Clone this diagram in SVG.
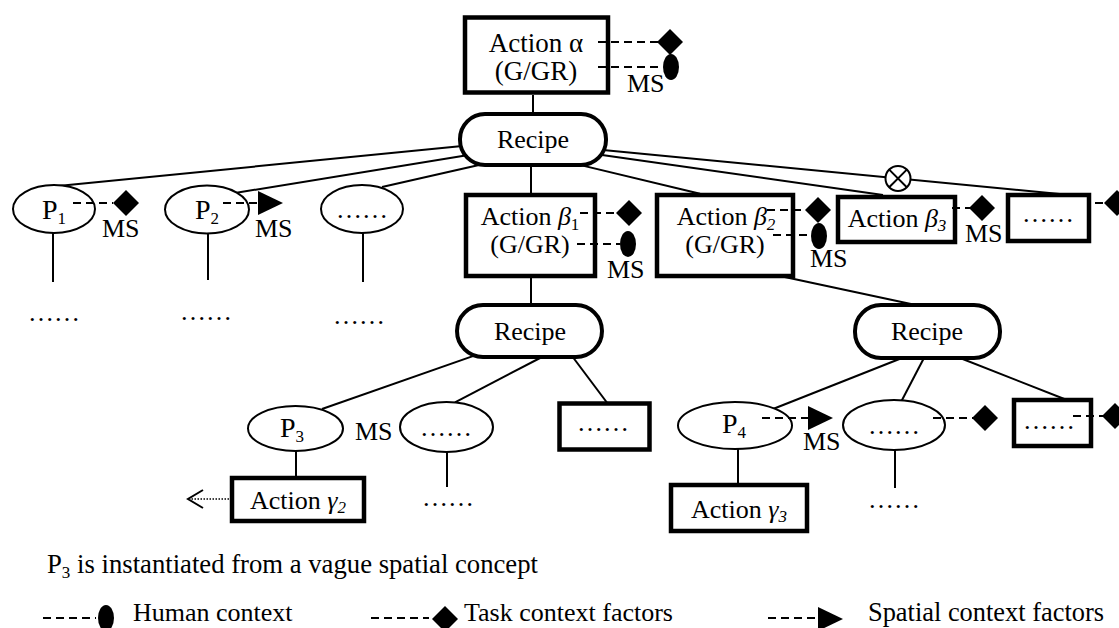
<svg xmlns="http://www.w3.org/2000/svg" xmlns:xlink="http://www.w3.org/1999/xlink" width="1119" height="628" viewBox="0 0 1119 628" font-family="'Liberation Serif', 'Times New Roman', 'DejaVu Serif', serif" font-size="26">
  <defs>
    <style>
      text { fill: #000; }
      .mid { text-anchor: middle; }
      .sub { font-size: 17px; }
      .p { font-size: 28px; }
      .edge { stroke: #000; stroke-width: 2; fill: none; }
      .ctx { stroke: #000; stroke-width: 2; stroke-dasharray: 8 5; fill: none; }
      .dotted { stroke: #000; stroke-width: 1.5; stroke-dasharray: 1.5 1.5; fill: none; }
      .box { fill: #fff; stroke: #000; stroke-width: 4.5; }
      .recipe { fill: #fff; stroke: #000; stroke-width: 4; }
      .ell { fill: #fff; stroke: #000; stroke-width: 2; }
      .mark { fill: #000; }
    </style>
    <!-- context factor glyphs -->
    <path id="task" class="mark" d="M0,-13 L13,0 L0,13 L-13,0 Z"/>
    <ellipse id="human" class="mark" rx="8" ry="13"/>
    <path id="spatial" class="mark" d="M0,-12 L25,0 L0,12 Z"/>
  </defs>

  <rect width="1119" height="628" fill="#fff"/>

  <!-- tree connectors -->
  <g id="connectors">
    <line class="edge" x1="533" y1="95" x2="533" y2="116"/>
    <line class="edge" x1="58" y1="186" x2="470" y2="145.2"/>
    <line class="edge" x1="235" y1="193" x2="470" y2="154.7"/>
    <line class="edge" x1="382" y1="187" x2="490" y2="162.6"/>
    <line class="edge" x1="531" y1="160" x2="531" y2="197"/>
    <line class="edge" x1="562" y1="160.6" x2="700" y2="193.7"/>
    <line class="edge" x1="590" y1="148.7" x2="1070" y2="195"/>
    <line class="edge" x1="595" y1="154" x2="883" y2="195"/>
    <line class="edge" x1="53" y1="233" x2="53" y2="282"/>
    <line class="edge" x1="208" y1="233" x2="208" y2="280"/>
    <line class="edge" x1="363" y1="233" x2="363" y2="282"/>
    <line class="edge" x1="531" y1="276" x2="531" y2="307"/>
    <line class="edge" x1="480" y1="353.6" x2="322" y2="409"/>
    <line class="edge" x1="542" y1="357" x2="455" y2="402.4"/>
    <line class="edge" x1="572" y1="356" x2="608" y2="404"/>
    <line class="edge" x1="296" y1="451" x2="296" y2="479"/>
    <line class="edge" x1="447" y1="452" x2="447" y2="487"/>
    <line class="edge" x1="780" y1="276" x2="925" y2="307"/>
    <line class="edge" x1="907" y1="356" x2="773" y2="409"/>
    <line class="edge" x1="925" y1="356" x2="901" y2="402"/>
    <line class="edge" x1="955" y1="356" x2="1072" y2="402"/>
    <line class="edge" x1="738" y1="449" x2="738" y2="486"/>
    <line class="edge" x1="895" y1="450" x2="895" y2="488"/>
    <!-- dotted pointer from Action gamma2 -->
    <line class="dotted" x1="232" y1="499" x2="190" y2="499"/>
    <polyline class="edge" stroke-width="1.5" points="203,490 188,499 203,508"/>
    <!-- exclusive-choice marker -->
    <circle cx="898" cy="178.4" r="12.5" fill="#fff" stroke="#000" stroke-width="2"/>
    <path class="edge" d="M889.2,169.6 L906.8,187.2 M906.8,169.6 L889.2,187.2"/>
  </g>

  <g id="action-alpha">
    <rect class="box" x="465" y="17.5" width="143" height="75"/>
    <text class="mid" x="536" y="52" font-size="27">Action α</text>
    <text class="mid" x="536" y="80" font-size="27">(G/GR)</text>
    <line class="ctx" x1="598" y1="42" x2="658" y2="42"/>
    <line class="ctx" x1="598" y1="67" x2="663" y2="67"/>
    <use xlink:href="#task" x="670" y="42"/>
    <use xlink:href="#human" x="671" y="67"/>
    <text x="627" y="92">MS</text>
  </g>

  <g id="recipe-1">
    <rect class="recipe" x="460" y="114" width="146" height="51" rx="25"/>
    <text class="mid" x="533" y="148">Recipe</text>
  </g>

  <g id="p1">
    <ellipse class="ell" cx="54" cy="209" rx="41" ry="24"/>
    <text class="mid p" x="54" y="219">P<tspan class="sub" dy="5">1</tspan></text>
    <line class="ctx" x1="73" y1="203" x2="113" y2="203"/>
    <use xlink:href="#task" x="126" y="203"/>
    <text x="102" y="237">MS</text>
    <text class="mid" x="54" y="321">……</text>
  </g>

  <g id="p2">
    <ellipse class="ell" cx="207" cy="209.5" rx="42" ry="24"/>
    <text class="mid p" x="207" y="219">P<tspan class="sub" dy="5">2</tspan></text>
    <line class="ctx" x1="223" y1="203" x2="258" y2="203"/>
    <use xlink:href="#spatial" x="258" y="203"/>
    <text x="255" y="237">MS</text>
    <text class="mid" x="206" y="320">……</text>
  </g>

  <g id="param-more">
    <ellipse class="ell" cx="362" cy="209" rx="41" ry="24"/>
    <text class="mid" x="362" y="218">……</text>
    <text class="mid" x="359" y="324">……</text>
  </g>

  <g id="action-beta1">
    <rect class="box" x="466" y="195" width="129" height="81"/>
    <text class="mid" x="530" y="225">Action <tspan font-style="italic">β</tspan><tspan class="sub" dy="5">1</tspan></text>
    <text class="mid" x="530" y="253">(G/GR)</text>
    <line class="ctx" x1="580" y1="213" x2="617" y2="213"/>
    <line class="ctx" x1="577" y1="244" x2="620" y2="244"/>
    <use xlink:href="#task" x="629" y="213"/>
    <use xlink:href="#human" x="628" y="244"/>
    <text x="607" y="278">MS</text>
  </g>

  <g id="action-beta2">
    <rect class="box" x="657" y="195" width="136" height="81"/>
    <text class="mid" x="726" y="225">Action <tspan font-style="italic">β<tspan class="sub" dy="5">2</tspan></tspan></text>
    <text class="mid" x="725" y="253">(G/GR)</text>
    <line class="ctx" x1="767" y1="210" x2="805" y2="210"/>
    <line class="ctx" x1="773" y1="235" x2="808" y2="235"/>
    <use xlink:href="#task" x="818" y="210"/>
    <use xlink:href="#human" x="819" y="236"/>
    <text x="810" y="267">MS</text>
  </g>

  <g id="action-beta3">
    <rect class="box" x="838" y="197" width="117" height="45"/>
    <text class="mid" x="897" y="227">Action <tspan font-style="italic">β<tspan class="sub" dy="4">3</tspan></tspan></text>
    <line class="ctx" x1="952" y1="208" x2="970" y2="208"/>
    <use xlink:href="#task" x="982" y="208"/>
    <text x="965" y="242">MS</text>
  </g>

  <g id="action-more-1">
    <rect class="box" x="1008" y="195" width="81" height="46"/>
    <text class="mid" x="1048" y="222">……</text>
    <line class="ctx" x1="1095" y1="203" x2="1105" y2="203"/>
    <use xlink:href="#task" x="1117" y="203"/>
  </g>

  <g id="recipe-2">
    <rect class="recipe" x="457" y="305" width="145" height="52" rx="26"/>
    <text class="mid" x="530" y="340">Recipe</text>
  </g>

  <g id="p3">
    <ellipse class="ell" cx="295.5" cy="428.5" rx="47.5" ry="22.5"/>
    <text class="mid p" x="292" y="437">P<tspan class="sub" dy="5">3</tspan></text>
    <text x="355" y="440">MS</text>
  </g>

  <g id="param-more-2">
    <ellipse class="ell" cx="446.5" cy="427" rx="46.5" ry="25"/>
    <text class="mid" x="446" y="436">……</text>
    <text class="mid" x="448" y="506">……</text>
  </g>

  <g id="action-more-2">
    <rect class="box" x="559.5" y="403.5" width="90" height="46"/>
    <text class="mid" x="603" y="431">……</text>
  </g>

  <g id="action-gamma2">
    <rect class="box" x="232" y="478" width="132" height="43"/>
    <text class="mid" x="298" y="509">Action <tspan font-style="italic">γ<tspan class="sub" dy="4">2</tspan></tspan></text>
  </g>

  <g id="recipe-3">
    <rect class="recipe" x="855" y="305" width="145" height="53" rx="26"/>
    <text class="mid" x="927" y="340">Recipe</text>
  </g>

  <g id="p4">
    <ellipse class="ell" cx="735" cy="425.5" rx="57" ry="23.5"/>
    <text class="mid p" x="734" y="433">P<tspan class="sub" dy="5">4</tspan></text>
    <line class="ctx" x1="762" y1="418" x2="808" y2="418"/>
    <use xlink:href="#spatial" x="808" y="418"/>
    <text x="803" y="450">MS</text>
  </g>

  <g id="param-more-3">
    <ellipse class="ell" cx="894" cy="425" rx="51" ry="25"/>
    <text class="mid" x="894" y="434">……</text>
    <line class="ctx" x1="933" y1="418" x2="973" y2="418"/>
    <use xlink:href="#task" x="985" y="418"/>
    <text class="mid" x="894" y="508">……</text>
  </g>

  <g id="action-more-3">
    <rect class="box" x="1014" y="400" width="77" height="46"/>
    <text class="mid" x="1049" y="429">……</text>
    <line class="ctx" x1="1073" y1="416" x2="1103" y2="416"/>
    <use xlink:href="#task" x="1115" y="416"/>
  </g>

  <g id="action-gamma3">
    <rect class="box" x="671" y="485" width="136" height="46"/>
    <text class="mid" x="739" y="518">Action <tspan font-style="italic">γ<tspan class="sub" dy="4">3</tspan></tspan></text>
  </g>

  <g id="legend">
    <text x="47" y="573" font-size="26.7">P<tspan class="sub" dy="5">3</tspan><tspan dy="-5"> is instantiated from a vague spatial concept</tspan></text>
    <line class="ctx" x1="43" y1="618" x2="96" y2="618"/>
    <use xlink:href="#human" x="106" y="618"/>
    <text x="133" y="621">Human context</text>
    <line class="ctx" x1="371" y1="618" x2="429" y2="618"/>
    <use xlink:href="#task" x="445" y="619"/>
    <text x="464" y="621">Task context factors</text>
    <line class="ctx" x1="768" y1="618" x2="816" y2="618"/>
    <use xlink:href="#spatial" x="818" y="619"/>
    <text x="868" y="621" font-size="26.4">Spatial context factors</text>
  </g>
</svg>
